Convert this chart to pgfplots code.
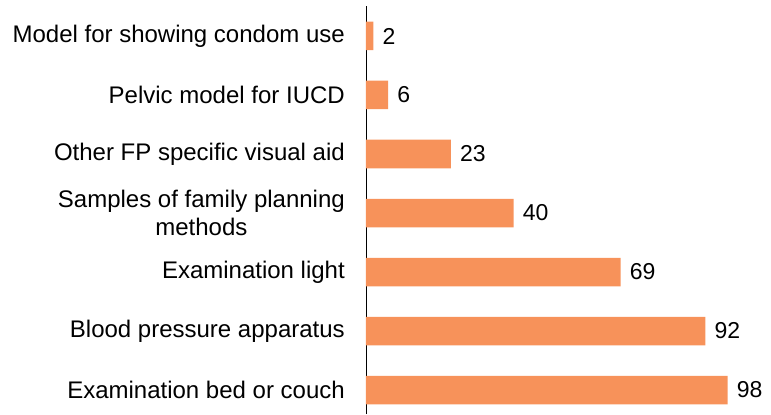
\documentclass[border=0pt]{standalone}
\usepackage{fontspec}
\setmainfont{Liberation Sans}
\usepackage{pgfplots}
\pgfplotsset{compat=1.18}
\definecolor{barorange}{RGB}{247,146,90}
\begin{document}
\begin{tikzpicture}
\begin{axis}[
  name=ax,
  scale only axis,
  width=369pt, height=407.7pt,
  xmin=0, xmax=100,
  ymin=-0.41, ymax=6.5,
  xbar,
  bar width=28.5pt,
  axis x line=none,
  axis y line*=left,
  axis line style={black, line width=0.9pt, -},
  ytick={0,1,2,3,4,5,6},
  yticklabels={Examination bed or couch, Blood pressure apparatus, Examination light, {Samples of family planning\\methods}, Other FP specific visual aid, Pelvic model for IUCD, Model for showing condom use},
  yticklabel style={align=center, font=\fontsize{24}{27.5}\selectfont, inner sep=0pt, xshift=-21pt},
  major tick length=0pt,
  /pgf/number format/assume math mode=true,
  nodes near coords,
  nodes near coords style={font=\fontsize{23}{25}\selectfont, inner sep=0pt, xshift=9pt, anchor=west, black},
  clip=false,
]
\addplot[fill=barorange, draw=none] coordinates {(98,0) (92,1) (69,2) (40,3) (23,4) (6,5) (2,6)};
\end{axis}
\path ([xshift=-366pt]ax.south west) rectangle ([xshift=36pt,yshift=6.5pt]ax.north east);
\end{tikzpicture}
\end{document}
